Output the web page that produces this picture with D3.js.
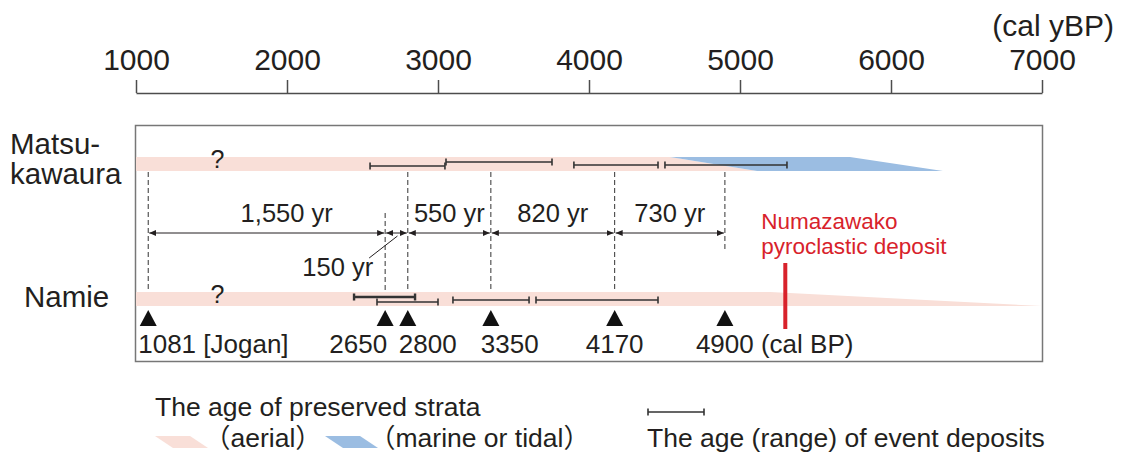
<!DOCTYPE html>
<html>
<head>
<meta charset="utf-8">
<script src="https://cdn.jsdelivr.net/npm/d3@7"></script>
<style>
  body { margin: 0; background: #fff; }
  svg { display: block; font-family: 'Liberation Sans', Arial, 'Noto Sans CJK JP', sans-serif; }
</style>
</head>
<body>
<svg width="1125" height="455"></svg>
<script>
// all ages in cal yBP
const tickValues = [1000, 2000, 3000, 4000, 5000, 6000, 7000]
const sites = ['Matsukawaura', 'Namie']
const eventYears = [1081, 2650, 2800, 3350, 4170, 4900]
const eventLabels = ['1081 [Jogan]', '2650', '2800', '3350', '4170', '4900 (cal BP)']
const intervalFrom = [1081, 2650, 2800, 3350, 4170]
const intervalTo = [2650, 2800, 3350, 4170, 4900]
const intervalLabels = ['1,550 yr', '150 yr', '550 yr', '820 yr', '730 yr']
const matsuRanges = [[2550, 3046], [3053, 3755], [3900, 4457], [4503, 5311]]
const namieRanges = [[2444, 2848], [2596, 3000], [3099, 3603], [3649, 4457]]
// strata shapes: ages where the band starts/ends on its top and bottom edge
const matsuAerial = { top: [1000, 4536], bottom: [1000, 5113] }
const matsuMarine = { top: [4536, 5728], bottom: [5113, 6344] }
const namieAerial = { top: [1000, 5200], bottom: [1000, 7000] }
const numazawakoAge = 5300
const unknownAge = 1540

const ink = '#231f20'
const pink = '#f9dfd8'
const blue = '#9bbde2'
const red = '#d8222b'

const svg = d3.select('svg')

const x = d3.scaleLinear().domain([1000, 7000]).range([136, 1042])
const y = d3.scalePoint().domain(sites).range([164, 299])
const bandH = 14

// marker for the interval arrows
svg.append('defs').append('marker')
  .attr('id', 'arr')
  .attr('markerUnits', 'userSpaceOnUse')
  .attr('markerWidth', 8).attr('markerHeight', 6)
  .attr('refX', 7).attr('refY', 3)
  .attr('orient', 'auto-start-reverse')
  .append('path').attr('d', 'M0,0 L7,3 L0,6 Z').attr('fill', ink)

// top axis
const axis = d3.axisTop(x)
  .tickValues(tickValues)
  .tickFormat(d3.format('d'))
  .tickSize(13)
  .tickSizeOuter(0)
  .tickPadding(10)

svg.append('g')
  .attr('transform', 'translate(0,93)')
  .call(axis)
  .attr('font-size', null).attr('font-family', null)
  .call(g => g.selectAll('text').attr('font-size', 30).attr('fill', ink))
  .call(g => g.selectAll('line, path').attr('stroke', '#4d4d4d').attr('stroke-width', 1.5))

svg.append('text')
  .attr('x', 1114).attr('y', 36)
  .attr('text-anchor', 'end')
  .attr('font-size', 30).attr('fill', ink)
  .text('(cal yBP)')

// frame
svg.append('rect')
  .attr('x', x(1000) - 0.5).attr('y', 125.5)
  .attr('width', x(7000) - x(1000) + 1).attr('height', 236)
  .attr('fill', 'none').attr('stroke', '#777').attr('stroke-width', 1.5)

// strata bands
function bandPoints(shape, site) {
  let top = y(site) - bandH / 2
  let bot = y(site) + bandH / 2
  return [
    [x(shape.top[0]), top], [x(shape.top[1]), top],
    [x(shape.bottom[1]), bot], [x(shape.bottom[0]), bot]
  ].join(' ')
}
const bands = [
  { shape: matsuAerial, site: 'Matsukawaura', fill: pink },
  { shape: matsuMarine, site: 'Matsukawaura', fill: blue },
  { shape: namieAerial, site: 'Namie', fill: pink }
]
svg.append('g').selectAll('polygon')
  .data(bands)
  .enter()
  .append('polygon')
  .attr('points', d => bandPoints(d.shape, d.site))
  .attr('fill', d => d.fill)

// question marks
svg.append('g').selectAll('text')
  .data(sites)
  .enter()
  .append('text')
  .attr('x', x(unknownAge))
  .attr('y', d => y(d) + 4)
  .attr('text-anchor', 'middle')
  .attr('font-size', 25).attr('fill', ink)
  .text('?')

// age ranges of event deposits
const rangeDy = { Matsukawaura: [2, -2, 1, 1], Namie: [-2, 3, 1, 1] }
const rangeData = matsuRanges.map((r, i) => ({ r, site: 'Matsukawaura', dy: rangeDy.Matsukawaura[i], bold: false }))
  .concat(namieRanges.map((r, i) => ({ r, site: 'Namie', dy: rangeDy.Namie[i], bold: i === 0 })))

svg.append('g').selectAll('path')
  .data(rangeData)
  .enter()
  .append('path')
  .attr('d', d => {
    let yy = y(d.site) + d.dy
    let x1 = x(d.r[0])
    let x2 = x(d.r[1])
    return `M${x1},${yy - 3.5}V${yy + 3.5}M${x1},${yy}H${x2}M${x2},${yy - 3.5}V${yy + 3.5}`
  })
  .attr('fill', 'none')
  .attr('stroke', '#333')
  .attr('stroke-width', d => (d.bold ? 2.4 : 1.6))

// dashed guide lines between the two sites
const dashTop = { 2650: 213 }
const dashBottom = { 4900: 249 }
svg.append('g').selectAll('line')
  .data(eventYears)
  .enter()
  .append('line')
  .attr('x1', d => x(d)).attr('x2', d => x(d))
  .attr('y1', d => dashTop[d] || y('Matsukawaura') + bandH / 2 + 1)
  .attr('y2', d => dashBottom[d] || y('Namie') - bandH / 2 - 1)
  .attr('stroke', '#333').attr('stroke-width', 1)
  .attr('stroke-dasharray', '5,3')

// recurrence intervals
const arrowY = 233
const intervals = intervalFrom.map((f, i) => ({ from: f, to: intervalTo[i], label: intervalLabels[i] }))
svg.append('g').selectAll('line')
  .data(intervals)
  .enter()
  .append('line')
  .attr('x1', d => x(d.from) + 1).attr('x2', d => x(d.to) - 1)
  .attr('y1', arrowY).attr('y2', arrowY)
  .attr('stroke', ink).attr('stroke-width', 1)
  .attr('marker-start', 'url(#arr)').attr('marker-end', 'url(#arr)')

const labelDx = { '1,550 yr': 20 }
svg.append('g').selectAll('text')
  .data(intervals.filter(d => d.label !== '150 yr'))
  .enter()
  .append('text')
  .attr('x', d => (x(d.from) + x(d.to)) / 2 + (labelDx[d.label] || 0))
  .attr('y', arrowY - 11)
  .attr('text-anchor', 'middle')
  .attr('font-size', 25.5).attr('fill', ink)
  .text(d => d.label)

// the short 150 yr interval gets a leader line
const short = intervals.find(d => d.label === '150 yr')
const shortMid = (x(short.from) + x(short.to)) / 2
svg.append('line')
  .attr('x1', shortMid + 1).attr('y1', arrowY + 3)
  .attr('x2', x(short.from) - 16).attr('y2', arrowY + 25)
  .attr('stroke', ink).attr('stroke-width', 1)
svg.append('text')
  .attr('x', x(short.from) - 12).attr('y', arrowY + 43)
  .attr('text-anchor', 'end')
  .attr('font-size', 25.5).attr('fill', ink)
  .text(short.label)

// Numazawako pyroclastic deposit
svg.append('line')
  .attr('x1', x(numazawakoAge)).attr('x2', x(numazawakoAge))
  .attr('y1', 263).attr('y2', 329)
  .attr('stroke', red).attr('stroke-width', 4)
svg.append('text')
  .attr('x', x(numazawakoAge) - 24).attr('y', 229)
  .attr('font-size', 22.5).attr('fill', red)
  .selectAll('tspan')
  .data(['Numazawako', 'pyroclastic deposit'])
  .enter()
  .append('tspan')
  .attr('x', x(numazawakoAge) - 24)
  .attr('dy', (d, i) => (i ? 25 : 0))
  .text(d => d)

// event triangles and labels at Namie
svg.append('g').selectAll('path')
  .data(eventYears)
  .enter()
  .append('path')
  .attr('d', d => `M${x(d) - 8.5},326L${x(d) + 8.5},326L${x(d)},310Z`)
  .attr('fill', '#111')

const evAnchor = ['start', 'end', 'start', 'start', 'middle', 'start']
const evDx = [-10, 2, -9, -10, 0, -29]
svg.append('g').selectAll('text')
  .data(eventYears)
  .enter()
  .append('text')
  .attr('x', (d, i) => x(d) + evDx[i])
  .attr('y', 353)
  .attr('text-anchor', (d, i) => evAnchor[i])
  .attr('font-size', 26).attr('fill', ink)
  .text((d, i) => eventLabels[i])

// site names
svg.append('text')
  .attr('font-size', 29.5).attr('fill', ink)
  .selectAll('tspan')
  .data(['Matsu-', 'kawaura'])
  .enter()
  .append('tspan')
  .attr('x', 10)
  .attr('y', (d, i) => y('Matsukawaura') - 10 + i * 30)
  .text(d => d)
svg.append('text')
  .attr('x', 24).attr('y', y('Namie') + 8)
  .attr('font-size', 29.5).attr('fill', ink)
  .text('Namie')

// legend
const legend = svg.append('g').attr('font-size', 26.5).attr('fill', ink)
legend.append('text').attr('x', 155).attr('y', 416).text('The age of preserved strata')
legend.append('polygon').attr('points', '155,436 190,436 208,448 173,448').attr('fill', pink)
legend.append('text').attr('x', 204).attr('y', 447).text('（aerial）')
legend.append('polygon').attr('points', '325,436 360,436 378,448 343,448').attr('fill', blue)
legend.append('text').attr('x', 369).attr('y', 447).text('（marine or tidal）')
legend.append('path')
  .attr('d', 'M648,408.5V415.5M648,412H704M704,408.5V415.5')
  .attr('stroke', '#333').attr('stroke-width', 1.6).attr('fill', 'none')
legend.append('text').attr('x', 647).attr('y', 447).text('The age (range) of event deposits')
</script>
</body>
</html>
